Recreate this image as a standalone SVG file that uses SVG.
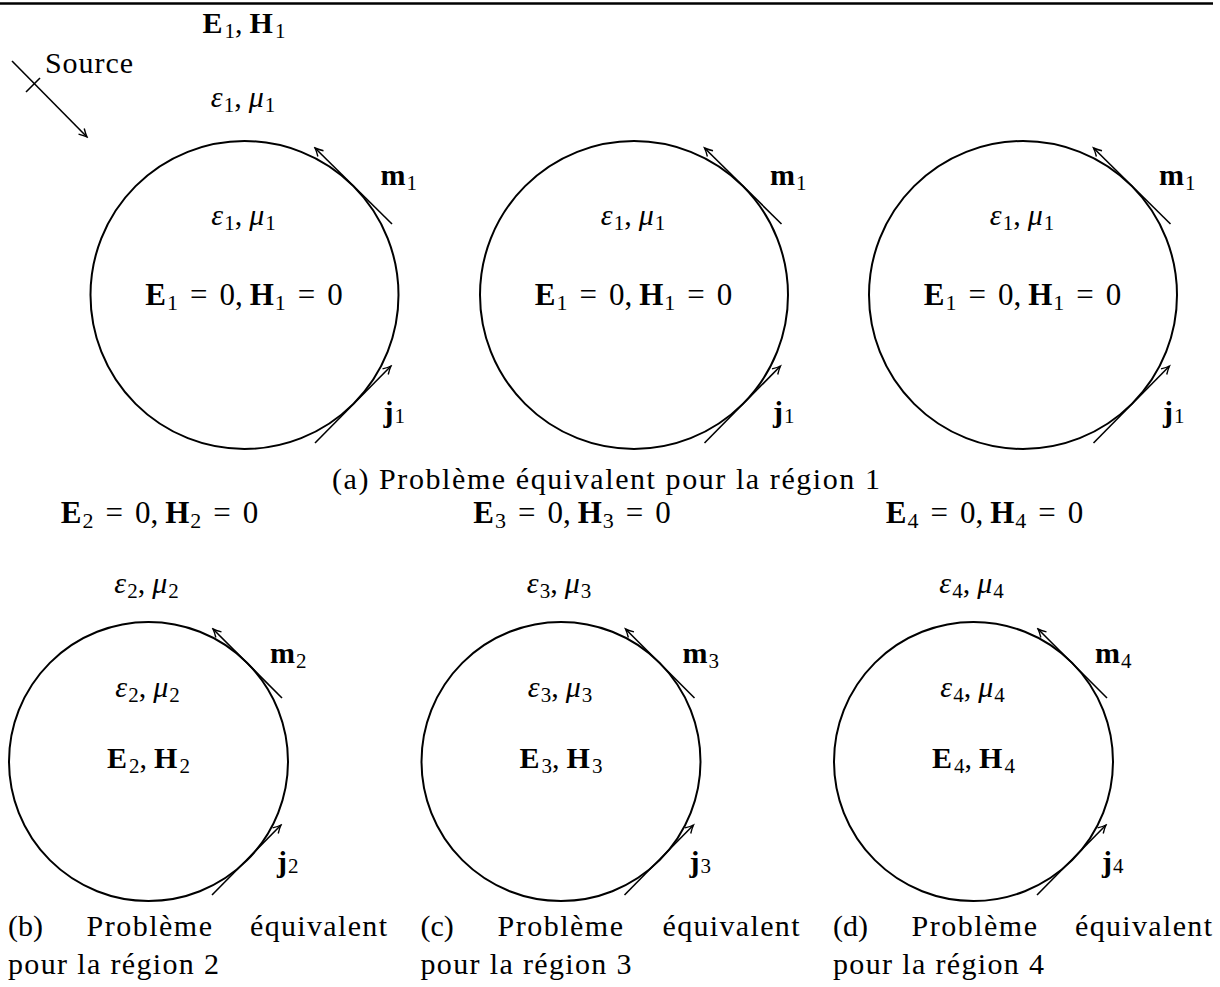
<svg xmlns="http://www.w3.org/2000/svg" width="1220" height="987" viewBox="0 0 1220 987">
<style>
text { font-family: "Liberation Serif", "DejaVu Serif", serif; font-size: 30px; fill: #000; }
.b { font-weight: bold; }
.i { font-style: italic; }
.s { font-size: 21px; font-weight: normal; font-style: normal; }
.eq { font-size: 31px; }
.eq .s { font-size: 22px; }
.mid { text-anchor: middle; }
.c { stroke: #000; stroke-width: 2; fill: none; }
.a { stroke: #000; stroke-width: 1.6; fill: none; marker-end: url(#ah); }
.l { stroke: #000; stroke-width: 1.6; fill: none; }
</style>
<defs>
<marker id="ah" viewBox="-10 -6 12 12" refX="0" refY="0" markerWidth="12" markerHeight="12" markerUnits="userSpaceOnUse" orient="auto">
<path d="M-8,-4 Q-3,-1 0,0 Q-3,1 -8,4" fill="none" stroke="#000" stroke-width="1.4"/>
</marker>
</defs>
<rect width="1220" height="987" fill="#fff"/>
<line x1="0" y1="3.5" x2="1213" y2="3.5" stroke="#000" stroke-width="2.5"/>

<g id="region1-exterior">
<text class="mid" x="244" y="33"><tspan class="b">E</tspan><tspan class="s" dx="2" dy="5">1</tspan><tspan dy="-5">,</tspan><tspan class="b" dx="7">H</tspan><tspan class="s" dx="2" dy="5">1</tspan></text>
<text x="45" y="73" textLength="88">Source</text>
<text class="mid" x="243" y="107"><tspan class="i">ε</tspan><tspan class="s" dx="1" dy="5">1</tspan><tspan dy="-5">,</tspan><tspan class="i" dx="7">μ</tspan><tspan class="s" dx="1" dy="5">1</tspan></text>
</g>

<g id="circle-a1">
<circle class="c" cx="244.5" cy="295" r="154"/>
<text class="mid" x="243.5" y="225"><tspan class="i">ε</tspan><tspan class="s" dx="1" dy="5">1</tspan><tspan dy="-5">,</tspan><tspan class="i" dx="7">μ</tspan><tspan class="s" dx="1" dy="5">1</tspan></text>
<text class="mid eq" x="244" y="305"><tspan class="b">E</tspan><tspan class="s" dx="1" dy="5">1</tspan><tspan dy="-5" dx="12">=</tspan><tspan dx="12">0,</tspan><tspan class="b" dx="7">H</tspan><tspan class="s" dx="1" dy="5">1</tspan><tspan dy="-5" dx="12">=</tspan><tspan dx="12">0</tspan></text>
<text x="380.5" y="185"><tspan class="b">m</tspan><tspan class="s" dx="1" dy="5">1</tspan></text>
<text x="383.5" y="422"><tspan class="b">j</tspan><tspan class="s" dx="1" dy="1">1</tspan></text>
</g>

<g id="circle-a2">
<circle class="c" cx="634" cy="295" r="154"/>
<text class="mid" x="633" y="225"><tspan class="i">ε</tspan><tspan class="s" dx="1" dy="5">1</tspan><tspan dy="-5">,</tspan><tspan class="i" dx="7">μ</tspan><tspan class="s" dx="1" dy="5">1</tspan></text>
<text class="mid eq" x="633.5" y="305"><tspan class="b">E</tspan><tspan class="s" dx="1" dy="5">1</tspan><tspan dy="-5" dx="12">=</tspan><tspan dx="12">0,</tspan><tspan class="b" dx="7">H</tspan><tspan class="s" dx="1" dy="5">1</tspan><tspan dy="-5" dx="12">=</tspan><tspan dx="12">0</tspan></text>
<text x="770" y="185"><tspan class="b">m</tspan><tspan class="s" dx="1" dy="5">1</tspan></text>
<text x="773" y="422"><tspan class="b">j</tspan><tspan class="s" dx="1" dy="1">1</tspan></text>
</g>

<g id="circle-a3">
<circle class="c" cx="1023" cy="295" r="154"/>
<text class="mid" x="1022" y="225"><tspan class="i">ε</tspan><tspan class="s" dx="1" dy="5">1</tspan><tspan dy="-5">,</tspan><tspan class="i" dx="7">μ</tspan><tspan class="s" dx="1" dy="5">1</tspan></text>
<text class="mid eq" x="1022.5" y="305"><tspan class="b">E</tspan><tspan class="s" dx="1" dy="5">1</tspan><tspan dy="-5" dx="12">=</tspan><tspan dx="12">0,</tspan><tspan class="b" dx="7">H</tspan><tspan class="s" dx="1" dy="5">1</tspan><tspan dy="-5" dx="12">=</tspan><tspan dx="12">0</tspan></text>
<text x="1159" y="185"><tspan class="b">m</tspan><tspan class="s" dx="1" dy="5">1</tspan></text>
<text x="1163" y="422"><tspan class="b">j</tspan><tspan class="s" dx="1" dy="1">1</tspan></text>
</g>

<g id="caption-a">
<text class="mid" x="606" y="489" textLength="548">(a) Problème équivalent pour la région 1</text>
</g>

<g id="circle-b">
<text class="mid eq" x="159.5" y="523"><tspan class="b">E</tspan><tspan class="s" dx="1" dy="5">2</tspan><tspan dy="-5" dx="12">=</tspan><tspan dx="12">0,</tspan><tspan class="b" dx="7">H</tspan><tspan class="s" dx="1" dy="5">2</tspan><tspan dy="-5" dx="12">=</tspan><tspan dx="12">0</tspan></text>
<text class="mid" x="146.5" y="593"><tspan class="i">ε</tspan><tspan class="s" dx="1" dy="5">2</tspan><tspan dy="-5">,</tspan><tspan class="i" dx="7">μ</tspan><tspan class="s" dx="1" dy="5">2</tspan></text>
<circle class="c" cx="148.5" cy="761.5" r="139.5"/>
<text class="mid" x="147.5" y="697"><tspan class="i">ε</tspan><tspan class="s" dx="1" dy="5">2</tspan><tspan dy="-5">,</tspan><tspan class="i" dx="7">μ</tspan><tspan class="s" dx="1" dy="5">2</tspan></text>
<text class="mid" x="148.5" y="768"><tspan class="b">E</tspan><tspan class="s" dx="2" dy="5">2</tspan><tspan dy="-5">,</tspan><tspan class="b" dx="7">H</tspan><tspan class="s" dx="2" dy="5">2</tspan></text>
<text x="270" y="663"><tspan class="b">m</tspan><tspan class="s" dx="1" dy="5">2</tspan></text>
<text x="277" y="872"><tspan class="b">j</tspan><tspan class="s" dx="1" dy="1">2</tspan></text>
</g>

<g id="circle-c">
<text class="mid eq" x="572" y="523"><tspan class="b">E</tspan><tspan class="s" dx="1" dy="5">3</tspan><tspan dy="-5" dx="12">=</tspan><tspan dx="12">0,</tspan><tspan class="b" dx="7">H</tspan><tspan class="s" dx="1" dy="5">3</tspan><tspan dy="-5" dx="12">=</tspan><tspan dx="12">0</tspan></text>
<text class="mid" x="559" y="593"><tspan class="i">ε</tspan><tspan class="s" dx="1" dy="5">3</tspan><tspan dy="-5">,</tspan><tspan class="i" dx="7">μ</tspan><tspan class="s" dx="1" dy="5">3</tspan></text>
<circle class="c" cx="561" cy="761.5" r="139.5"/>
<text class="mid" x="560" y="697"><tspan class="i">ε</tspan><tspan class="s" dx="1" dy="5">3</tspan><tspan dy="-5">,</tspan><tspan class="i" dx="7">μ</tspan><tspan class="s" dx="1" dy="5">3</tspan></text>
<text class="mid" x="561" y="768"><tspan class="b">E</tspan><tspan class="s" dx="2" dy="5">3</tspan><tspan dy="-5">,</tspan><tspan class="b" dx="7">H</tspan><tspan class="s" dx="2" dy="5">3</tspan></text>
<text x="682.5" y="663"><tspan class="b">m</tspan><tspan class="s" dx="1" dy="5">3</tspan></text>
<text x="689.5" y="872"><tspan class="b">j</tspan><tspan class="s" dx="1" dy="1">3</tspan></text>
</g>

<g id="circle-d">
<text class="mid eq" x="984.5" y="523"><tspan class="b">E</tspan><tspan class="s" dx="1" dy="5">4</tspan><tspan dy="-5" dx="12">=</tspan><tspan dx="12">0,</tspan><tspan class="b" dx="7">H</tspan><tspan class="s" dx="1" dy="5">4</tspan><tspan dy="-5" dx="12">=</tspan><tspan dx="12">0</tspan></text>
<text class="mid" x="971.5" y="593"><tspan class="i">ε</tspan><tspan class="s" dx="1" dy="5">4</tspan><tspan dy="-5">,</tspan><tspan class="i" dx="7">μ</tspan><tspan class="s" dx="1" dy="5">4</tspan></text>
<circle class="c" cx="973.5" cy="761.5" r="139.5"/>
<text class="mid" x="972.5" y="697"><tspan class="i">ε</tspan><tspan class="s" dx="1" dy="5">4</tspan><tspan dy="-5">,</tspan><tspan class="i" dx="7">μ</tspan><tspan class="s" dx="1" dy="5">4</tspan></text>
<text class="mid" x="973.5" y="768"><tspan class="b">E</tspan><tspan class="s" dx="2" dy="5">4</tspan><tspan dy="-5">,</tspan><tspan class="b" dx="7">H</tspan><tspan class="s" dx="2" dy="5">4</tspan></text>
<text x="1095" y="663"><tspan class="b">m</tspan><tspan class="s" dx="1" dy="5">4</tspan></text>
<text x="1102" y="872"><tspan class="b">j</tspan><tspan class="s" dx="1" dy="1">4</tspan></text>
</g>

<g id="captions-bcd">
<text x="8" y="936">(b)</text>
<text x="86.5" y="936" textLength="125.5">Problème</text>
<text x="250" y="936" textLength="137">équivalent</text>
<text x="8" y="974" textLength="211">pour la région 2</text>
<text x="420.5" y="936">(c)</text>
<text x="497.5" y="936" textLength="125.5">Problème</text>
<text x="662.5" y="936" textLength="137">équivalent</text>
<text x="420.5" y="974" textLength="211">pour la région 3</text>
<text x="833" y="936">(d)</text>
<text x="911.5" y="936" textLength="125.5">Problème</text>
<text x="1075" y="936" textLength="137">équivalent</text>
<text x="833" y="974" textLength="211">pour la région 4</text>
</g>

<g id="connectors">
<path class="a" d="M12,61 L87,137"/>
<path class="l" d="M26,92 L40,78"/>
<path class="a" d="M392,224 L315,148"/>
<path class="a" d="M315,443 L391,366"/>
<path class="a" d="M781.5,224 L704.5,148"/>
<path class="a" d="M704.5,443 L780.5,366"/>
<path class="a" d="M1170.5,224 L1093.5,148"/>
<path class="a" d="M1093.5,443 L1169.5,366"/>
<path class="a" d="M282,698 L213,629"/>
<path class="a" d="M212,895 L281,825"/>
<path class="a" d="M694.5,698 L625.5,629"/>
<path class="a" d="M624.5,895 L693.5,825"/>
<path class="a" d="M1107,698 L1038,629"/>
<path class="a" d="M1037,895 L1106,825"/>
</g>
</svg>
